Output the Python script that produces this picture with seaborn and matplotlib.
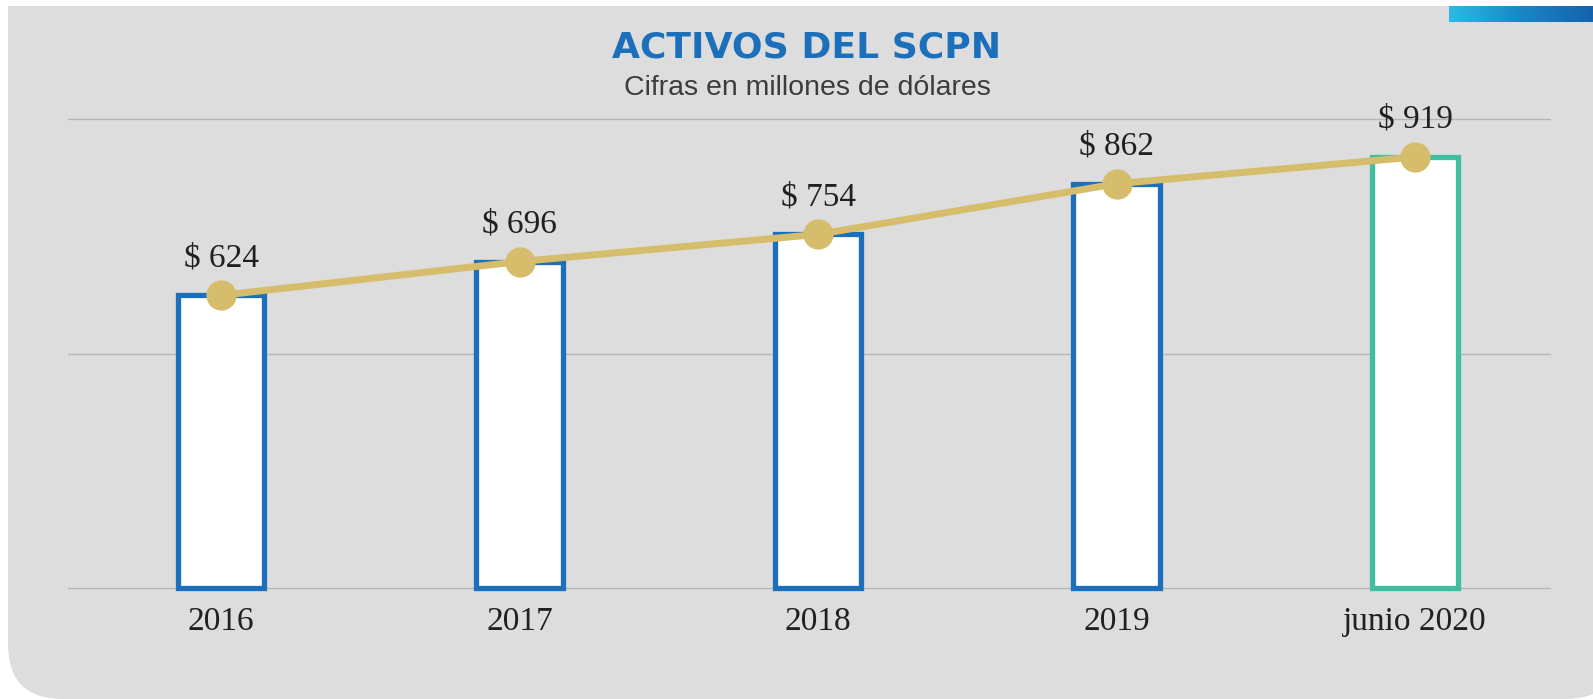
import numpy as np
import matplotlib.pyplot as plt
import matplotlib.transforms as mtransforms
import seaborn as sns
from matplotlib.patches import FancyBboxPatch, Rectangle
from matplotlib.colors import LinearSegmentedColormap

# data
years = ["2016", "2017", "2018", "2019", "junio 2020"]
activos = [624, 696, 754, 862, 919]
edge_colors = ["#1c6fba", "#1c6fba", "#1c6fba", "#1c6fba", "#3fbfa0"]

W, H = 1593, 699
panel_gray = "#dcdddc"
gold = "#d6bd6c"
text_dark = "#231f20"

sns.set_style("white")

fig = plt.figure(figsize=(W / 100, H / 100), dpi=100)
fig.patch.set_facecolor("white")

# pixel coords, origin top-left
px = mtransforms.Affine2D().scale(1 / W, -1 / H).translate(0, 1) + fig.transFigure

# rounded gray panel (square top corners)
fig.patches.append(FancyBboxPatch(
    (8, 6), 1620 - 8, 699 - 6, boxstyle="round,pad=0,rounding_size=55",
    transform=px, facecolor=panel_gray, edgecolor="none", zorder=-5))
fig.patches.append(Rectangle(
    (8, 6), 1620 - 8, 300, transform=px, facecolor=panel_gray,
    edgecolor="none", zorder=-5))

# gradient strip top right
gax = fig.add_axes([1449 / W, 1 - 22 / H, (W - 1449) / W, 16 / H])
cmap = LinearSegmentedColormap.from_list("strip", ["#2abbe5", "#1a86c6", "#1562ad"])
grad = np.linspace(0, 1, 256).reshape(1, -1)
gax.imshow(grad, aspect="auto", cmap=cmap)
gax.axis("off")

# main axes
px_per_unit = (588 - 119) / 1000
ytop = 1100
ax_top_px = 588 - ytop * px_per_unit
ax = fig.add_axes([68 / W, 1 - 588 / H, (1550 - 68) / W, (588 - ax_top_px) / H])
ax.set_facecolor("none")

sns.barplot(x=years, y=activos, color="white", saturation=1, width=0.29,
            linewidth=3.8, edgecolor=edge_colors[0], ax=ax, zorder=2)
for patch, ec in zip(ax.patches, edge_colors):
    patch.set_edgecolor(ec)
    patch.set_clip_on(False)

sns.pointplot(x=years, y=activos, color=gold, markers="o", errorbar=None,
              markersize=18, linewidth=5, ax=ax)
for line in ax.lines:
    line.set_zorder(4)
    line.set_clip_on(False)
for coll in ax.collections:
    coll.set_zorder(4)
    coll.set_clip_on(False)

for i, v in enumerate(activos):
    ax.annotate(f"$ {v}", (i, v), xytext=(0, 21), textcoords="offset points",
                ha="center", va="baseline", fontsize=24,
                family="Liberation Serif", color=text_dark, zorder=5)

ax.set_xlim(-0.513, 4.452)
ax.set_ylim(0, ytop)
ax.set_yticks([0, 500, 1000])
ax.set_yticklabels([])
ax.yaxis.grid(True, color="#b6b6b6", linewidth=1.0)
for gl in ax.yaxis.get_gridlines():
    gl.set_clip_on(False)
ax.set_axisbelow(True)
for s in ax.spines.values():
    s.set_visible(False)
ax.tick_params(axis="both", length=0)
ax.tick_params(axis="x", pad=13)
for lab in ax.get_xticklabels():
    lab.set_fontsize(24)
    lab.set_family("Liberation Serif")
    lab.set_color(text_dark)
ax.set_xlabel("")
ax.set_ylabel("")

# titles
fig.text(807 / W, 1 - 58 / H, "ACTIVOS DEL SCPN", ha="center", va="baseline",
         fontsize=26, fontweight="bold", family="DejaVu Sans", color="#1c6fba")
fig.text(807 / W, 1 - 95 / H, "Cifras en millones de dólares", ha="center",
         va="baseline", fontsize=20.5, family="Liberation Sans", color="#3c3c3c")

fig.savefig("out.png", dpi=100, facecolor=fig.get_facecolor())
